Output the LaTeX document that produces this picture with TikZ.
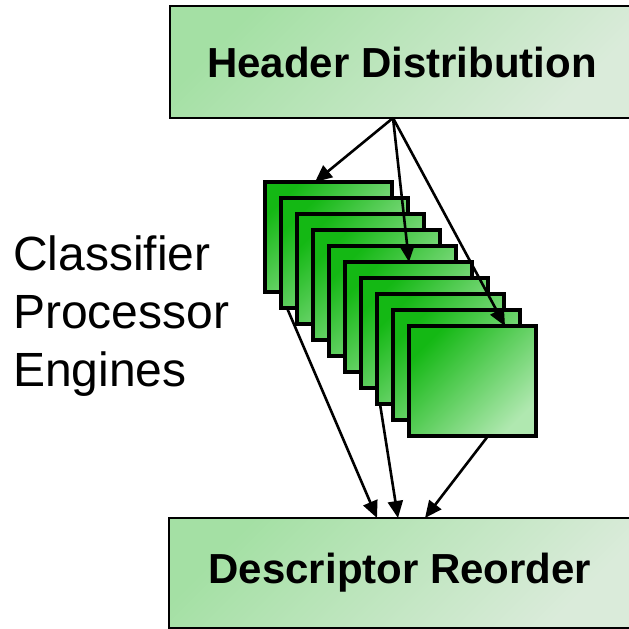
\documentclass[tikz,border=0pt]{standalone}
\usepackage{fontspec}
\setmainfont{Liberation Sans}
\usetikzlibrary{positioning}
\usetikzlibrary{arrows.meta}

\definecolor{paleA}{HTML}{A4E0A4}
\definecolor{paleB}{HTML}{DAEBDA}
\definecolor{leafA}{HTML}{14B814}
\definecolor{leafB}{HTML}{B0E8B0}

\begin{document}
\begin{tikzpicture}
		[x=1pt, y=-1pt,
		stage/.style={draw=black, line width=2.2pt, top color=paleA, bottom color=paleB, shading angle=45, inner sep=0pt, outer sep=0pt, font=\fontsize{42}{42}\selectfont\bfseries},
		engine/.style={draw=black, line width=3.2pt, top color=leafA, bottom color=leafB, shading angle=45, minimum width=127pt, minimum height=110pt, inner sep=0pt, outer sep=0pt},
		link/.style={-{Triangle[length=17pt,width=15pt]}, line width=2.6pt}]
		\useasboundingbox (0,0) rectangle (629,629);

		\node[stage, minimum width=464pt, minimum height=112pt, anchor=north west] (hdr) at (170,6) {Header Distribution};
		\node[stage, minimum width=462pt, minimum height=110pt, anchor=north west] (desc) at (169,518) {Descriptor Reorder};
		\node[anchor=west, align=left, inner sep=0pt, font=\fontsize{48}{58}\selectfont] (cpe) at (13,316) {Classifier\\Processor\\Engines};

		\foreach \i in {1,...,10}
			\node[engine, anchor=north west] (eng\i) at ({265+16*(\i-1)}, {182+16*(\i-1)}) {};

		\draw[link] ([xshift=223pt]hdr.south west) -- ([xshift=50pt]eng1.north west);
		\draw[link] ([xshift=223pt]hdr.south west) -- ([xshift=64pt]eng6.north west);
		\draw[link] ([xshift=223pt]hdr.south west) -- ([xshift=96pt]eng10.north west);
		\draw[link] ([xshift=6pt]eng2.south west) -- ([xshift=208pt]desc.north west);
		\draw[link] ([xshift=3pt]eng8.south west) -- ([xshift=229pt]desc.north west);
		\draw[link] ([xshift=79pt]eng10.south west) -- ([xshift=256pt]desc.north west);
	\end{tikzpicture}
\end{document}
